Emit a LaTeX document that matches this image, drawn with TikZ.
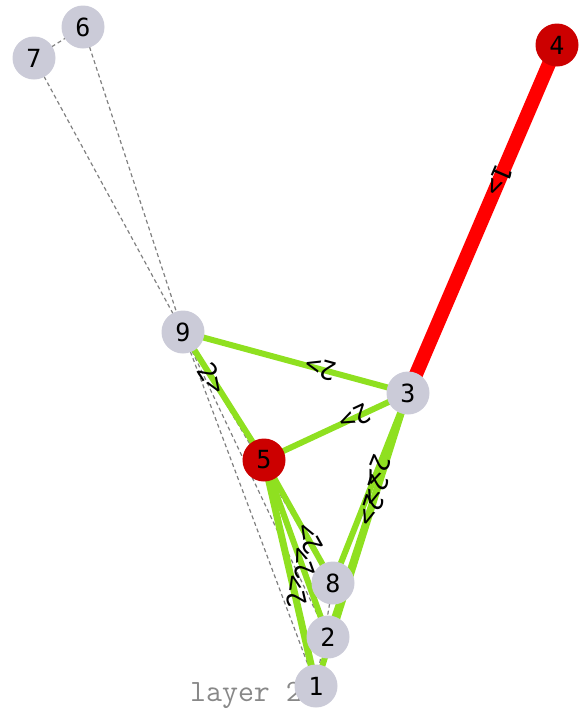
\documentclass[tikz,border=0pt]{standalone}
\usepackage{fontspec}
\setmainfont{DejaVu Sans Mono}
\usetikzlibrary{backgrounds}
\definecolor{nodegray}{RGB}{203,203,216}
\definecolor{nodered}{RGB}{204,0,0}
\definecolor{edgegreen}{RGB}{143,224,32}
\definecolor{dashgray}{RGB}{128,128,128}
\definecolor{layergray}{RGB}{136,136,136}
\begin{document}
\begin{tikzpicture}[x=1pt,y=-1pt,
  vert/.style={circle, fill=nodegray, minimum size=43pt, inner sep=0pt, font=\fontsize{25}{25}\selectfont},
  hot/.style={vert, fill=nodered},
  greenedge/.style={draw=edgegreen, line width=6pt},
  rededge/.style={draw=red, line width=14pt},
  dashedge/.style={draw=dashgray, line width=1.2pt, dash pattern=on 4pt off 3pt},
  lbl/.style={sloped, allow upside down, font=\fontsize{26}{26}\selectfont, inner sep=0pt}
]
\useasboundingbox (0,0) rectangle (585,718);
\node[font=\ttfamily\fontsize{31}{31}\selectfont, text=layergray] (layer) at (246,695) {layer 2};
\node[vert] (n6) at (83,27) {6};
\node[vert] (n7) at (34,58) {7};
\node[hot]  (n4) at (557,45) {4};
\node[vert] (n9) at (183,332) {9};
\node[vert] (n3) at (408,393) {3};
\node[hot]  (n5) at (264,460) {5};
\node[vert] (n8) at (333,583) {8};
\node[vert] (n2) at (328,637) {2};
\node[vert] (n1) at (316,686) {1};
\begin{scope}[on background layer]
\draw[dashedge] (n7.center) -- (n6.center);
\draw[dashedge] (n7.center) -- (n9.center);
\draw[dashedge] (n6.center) -- (n9.center);
\draw[dashedge] (n9.center) -- (n1.center);
\draw[dashedge] (n9.center) -- (n2.center);
\draw[dashedge] (n9.center) -- (n8.center);
\draw[dashedge] (n8.center) -- (n1.center);
\draw[greenedge] (n9.center) -- (n3.center);
\draw[greenedge] (n5.center) -- (n3.center);
\draw[greenedge] (n9.center) -- (n5.center);
\draw[greenedge] (n3.center) -- (n8.center);
\draw[greenedge] (n3.center) -- (n2.center);
\draw[greenedge] (n3.center) -- (n1.center);
\draw[greenedge] (n5.center) -- (n8.center);
\draw[greenedge] (n5.center) -- (n2.center);
\draw[greenedge, line width=7pt] (n5.center) -- (n1.center);
\draw[rededge] (n4.center) -- (n3.center);
\end{scope}
\path (n4.center) -- node[lbl, pos=0.39] {1>} (n3.center);
\path (n3.center) -- node[lbl, pos=0.39] {2>} (n9.center);
\path (n3.center) -- node[lbl, pos=0.37] {2>} (n5.center);
\path (n9.center) -- node[lbl, pos=0.36] {2>} (n5.center);
\path (n3.center) -- node[lbl, pos=0.41] {2>} (n8.center);
\path (n3.center) -- node[lbl, pos=0.40] {2>} (n2.center);
\path (n3.center) -- node[lbl, pos=0.40] {2>} (n1.center);
\path (n8.center) -- node[lbl, pos=0.36] {2>} (n5.center);
\path (n2.center) -- node[lbl, pos=0.42] {2>} (n5.center);
\path (n1.center) -- node[lbl, pos=0.42] {2>} (n5.center);
\end{tikzpicture}
\end{document}
